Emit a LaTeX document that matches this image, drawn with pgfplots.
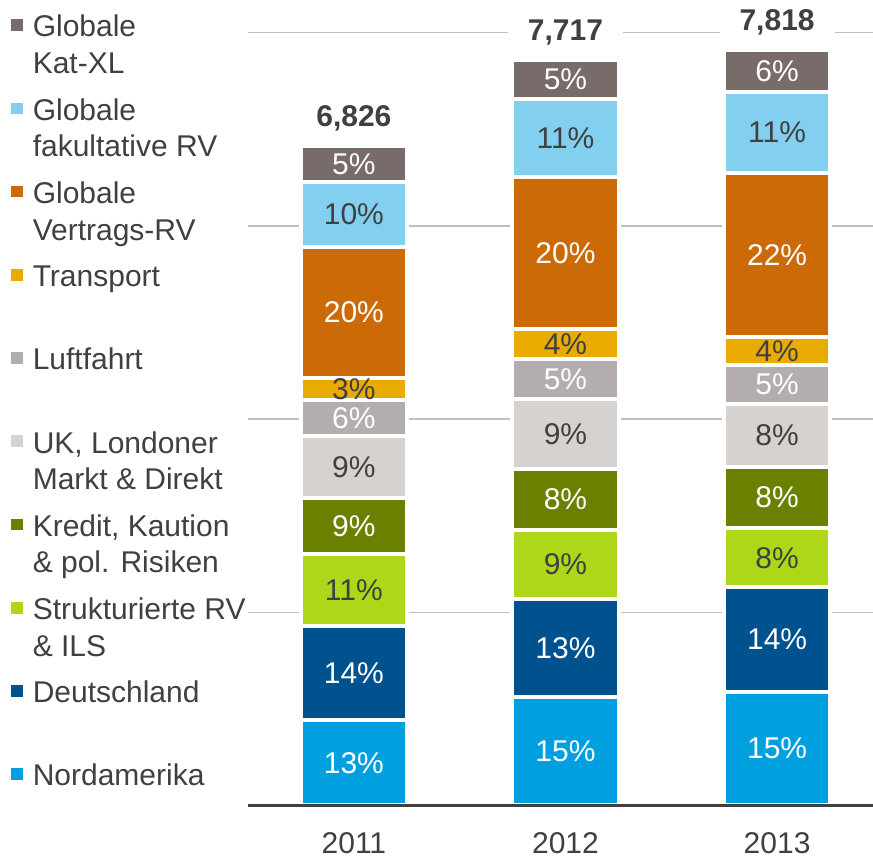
\documentclass[border=0pt]{standalone}
\usepackage{fontspec}
\setmainfont{Liberation Sans}
\usepackage{pgfplots}
\usepackage{pgfplotstable}
\pgfplotsset{compat=1.18}

\definecolor{katxl}{RGB}{119,108,105}
\definecolor{fakrv}{RGB}{131,207,240}
\definecolor{vertrv}{RGB}{204,106,8}
\definecolor{transp}{RGB}{234,171,0}
\definecolor{luft}{RGB}{179,174,173}
\definecolor{ukmd}{RGB}{214,210,207}
\definecolor{kredit}{RGB}{106,129,0}
\definecolor{struk}{RGB}{174,215,26}
\definecolor{deut}{RGB}{0,82,143}
\definecolor{nordam}{RGB}{0,159,223}
\definecolor{txt}{RGB}{64,64,64}
\definecolor{gridc}{RGB}{191,191,191}

\newcommand{\chartfont}{\fontsize{15}{18.3}\selectfont}
% legend entry, first line on the row baseline
\newcommand{\legtxt}[1]{\parbox[t]{130pt}{\strut #1}}

% segment values (EUR m); label columns hold the printed shares
\pgfplotstableread{
x na   nal de   del st  stl kr  krl uk  ukl lu  lul tr  trl ve   vel fa  fal ka  kal tot
0 882  13  977  14  742 11  587 9   634 9   373 6   232 3   1354 20  676 10  369 5   6826
1 1128 15  1006 13  723 9   624 8   725 9   416 5   312 4   1572 20  809 11  402 5   7717
2 1180 15  1080 14  610 8   634 8   655 8   403 5   291 4   1695 22  838 11  432 6   7818
}\shares

\pgfplotsset{
  frame/.style={
    at={(0pt,0pt)}, anchor=south west,
    x=105.8pt, y=0.0483pt,
    xmin=-0.5, xmax=2.46, ymin=0, ymax=8000,
    enlargelimits=false, clip=false,
  },
  seg/.style 2 args={
    fill=#1, draw=white, line width=2pt,
    point meta=explicit symbolic,
    nodes near coords={\pgfplotspointmeta\%},
    every node near coord/.append style={text=#2, anchor=center},
  },
}

\begin{document}
\chartfont
\begin{tikzpicture}[font=\chartfont]
\begin{axis}[
  frame, name=ax,
  ybar stacked, bar width=53.25pt,
  axis line style={draw=none},
  major tick length=0pt,
  ytick={2000,4000,6000,8000}, yticklabels={},
  ymajorgrids, grid style={gridc, line width=0.75pt},
  xtick={0,1,2}, xticklabels={2011,2012,2013},
  xticklabel style={text=txt, anchor=base, yshift=-23.75pt},
  legend image code/.code={\fill[#1, draw=none] (0pt,3pt) rectangle (5.8pt,8.8pt);},
  reverse legend,
  legend style={at={(-0.3786,1.0328)}, anchor=north west,
    draw=none, fill=none, inner sep=0pt, outer sep=0pt,
    row sep=22.55pt, column sep=3.1pt, text=txt,
    cells={anchor=base west, inner xsep=0pt, inner ysep=0pt}},
]
\addplot[seg={nordam}{white}] table[x=x, y=na, meta=nal] {\shares};
\addlegendentry{\legtxt{Nordamerika}}
\addplot[seg={deut}{white}] table[x=x, y=de, meta=del] {\shares};
\addlegendentry{\legtxt{Deutschland}}
\addplot[seg={struk}{txt}] table[x=x, y=st, meta=stl] {\shares};
\addlegendentry{\legtxt{Strukturierte RV\\\& ILS}}
\addplot[seg={kredit}{white}] table[x=x, y=kr, meta=krl] {\shares};
\addlegendentry{\legtxt{Kredit, Kaution\\\& pol. Risiken}}
\addplot[seg={ukmd}{txt}] table[x=x, y=uk, meta=ukl] {\shares};
\addlegendentry{\legtxt{UK, Londoner\\Markt \& Direkt}}
\addplot[seg={luft}{white}] table[x=x, y=lu, meta=lul] {\shares};
\addlegendentry{\legtxt{Luftfahrt}}
\addplot[seg={transp}{txt}] table[x=x, y=tr, meta=trl] {\shares};
\addlegendentry{\legtxt{Transport}}
\addplot[seg={vertrv}{white}] table[x=x, y=ve, meta=vel] {\shares};
\addlegendentry{\legtxt{Globale\\Vertrags-RV}}
\addplot[seg={fakrv}{txt}] table[x=x, y=fa, meta=fal] {\shares};
\addlegendentry{\legtxt{Globale\\fakultative RV}}
\addplot[seg={katxl}{white}] table[x=x, y=ka, meta=kal] {\shares};
\addlegendentry{\legtxt{Globale\\Kat-XL}}
\end{axis}

% totals above each bar, same frame, not stacked
\begin{axis}[frame, hide axis]
\addplot[only marks, mark=none, point meta=y,
  nodes near coords={\textbf{\pgfmathprintnumber[assume math mode=true,
    fixed, precision=0, 1000 sep={,}]{\pgfplotspointmeta}}},
  every node near coord/.append style={anchor=base, yshift=9.65pt,
    fill=white, inner xsep=10pt, text=txt}]
  table[x=x, y=tot] {\shares};
\end{axis}

\draw[txt, line width=1.5pt] (ax.south west) -- (ax.south east);
\pgfresetboundingbox
\path (-124.05pt,-25.75pt) rectangle (312.45pt,402.75pt);
\end{tikzpicture}
\end{document}
